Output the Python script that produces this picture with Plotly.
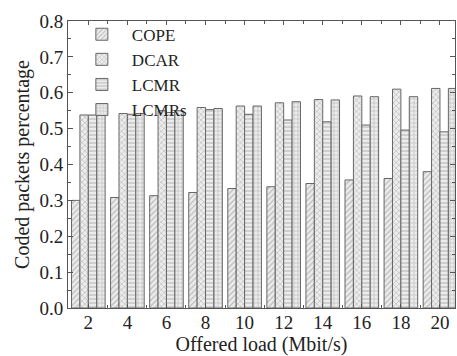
import plotly.graph_objects as go

loads = [2, 4, 6, 8, 10, 12, 14, 16, 18, 20]
cope = [0.300, 0.308, 0.313, 0.322, 0.333, 0.338, 0.347, 0.357, 0.361, 0.380]
dcar = [0.538, 0.542, 0.550, 0.559, 0.563, 0.572, 0.581, 0.591, 0.610, 0.612]
lcmr = [0.538, 0.540, 0.545, 0.553, 0.540, 0.524, 0.519, 0.510, 0.496, 0.491]
lcmrs = [0.538, 0.542, 0.550, 0.556, 0.563, 0.575, 0.580, 0.589, 0.589, 0.612]

series = [("COPE", cope, "/"), ("DCAR", dcar, "x"), ("LCMR", lcmr, "-"), ("LCMRs", lcmrs, "+")]

fig = go.Figure()
for name, vals, shape in series:
    fig.add_trace(go.Bar(
        x=loads, y=vals, name=name,
        marker=dict(color="#e4e4e4", line=dict(color="#666666", width=1),
                    pattern=dict(shape=shape, fgcolor="#888888", bgcolor="#ececec",
                                 size=4, solidity=0.3)),
    ))

serif = "Liberation Serif, Times New Roman, serif"
fig.update_layout(
    width=457, height=356,
    margin=dict(l=68, r=2, t=21, b=48),
    paper_bgcolor="white", plot_bgcolor="white",
    barmode="group", bargap=0.14, bargroupgap=0.0,
    font=dict(family=serif, size=19, color="#222222"),
    legend=dict(x=0.01, y=1.015, xanchor="left", yanchor="top",
                bgcolor="rgba(0,0,0,0)", font=dict(size=17), itemwidth=50,
                tracegroupgap=0),
)
fig.update_xaxes(
    range=[0.96, 20.77], tickvals=loads, ticktext=[str(v) for v in loads],
    showline=True, linecolor="#555555", linewidth=1, mirror="ticks",
    ticks="inside", ticklen=4, tickcolor="#555555",
    minor=dict(ticks="inside", ticklen=3, tickvals=list(range(1, 21, 2)), tickcolor="#555555"),
    showgrid=False, zeroline=False, tickfont=dict(size=19), ticklabelstandoff=-3,
    title=dict(text="Offered load (Mbit/s)", standoff=0, font=dict(size=20)),
)
fig.update_yaxes(
    range=[0, 0.8], dtick=0.1, tickformat=".1f",
    showline=True, linecolor="#555555", linewidth=1, mirror="ticks",
    ticks="inside", ticklen=5, tickcolor="#555555",
    minor=dict(ticks="inside", ticklen=3, dtick=0.05, tickcolor="#555555"),
    showgrid=False, zeroline=False, tickfont=dict(size=19),
    title=dict(text="Coded packets percentage", standoff=4, font=dict(size=20)),
)

fig.write_html("out.html", config={"displayModeBar": False},
               post_script="document.body.style.margin='0px';")
